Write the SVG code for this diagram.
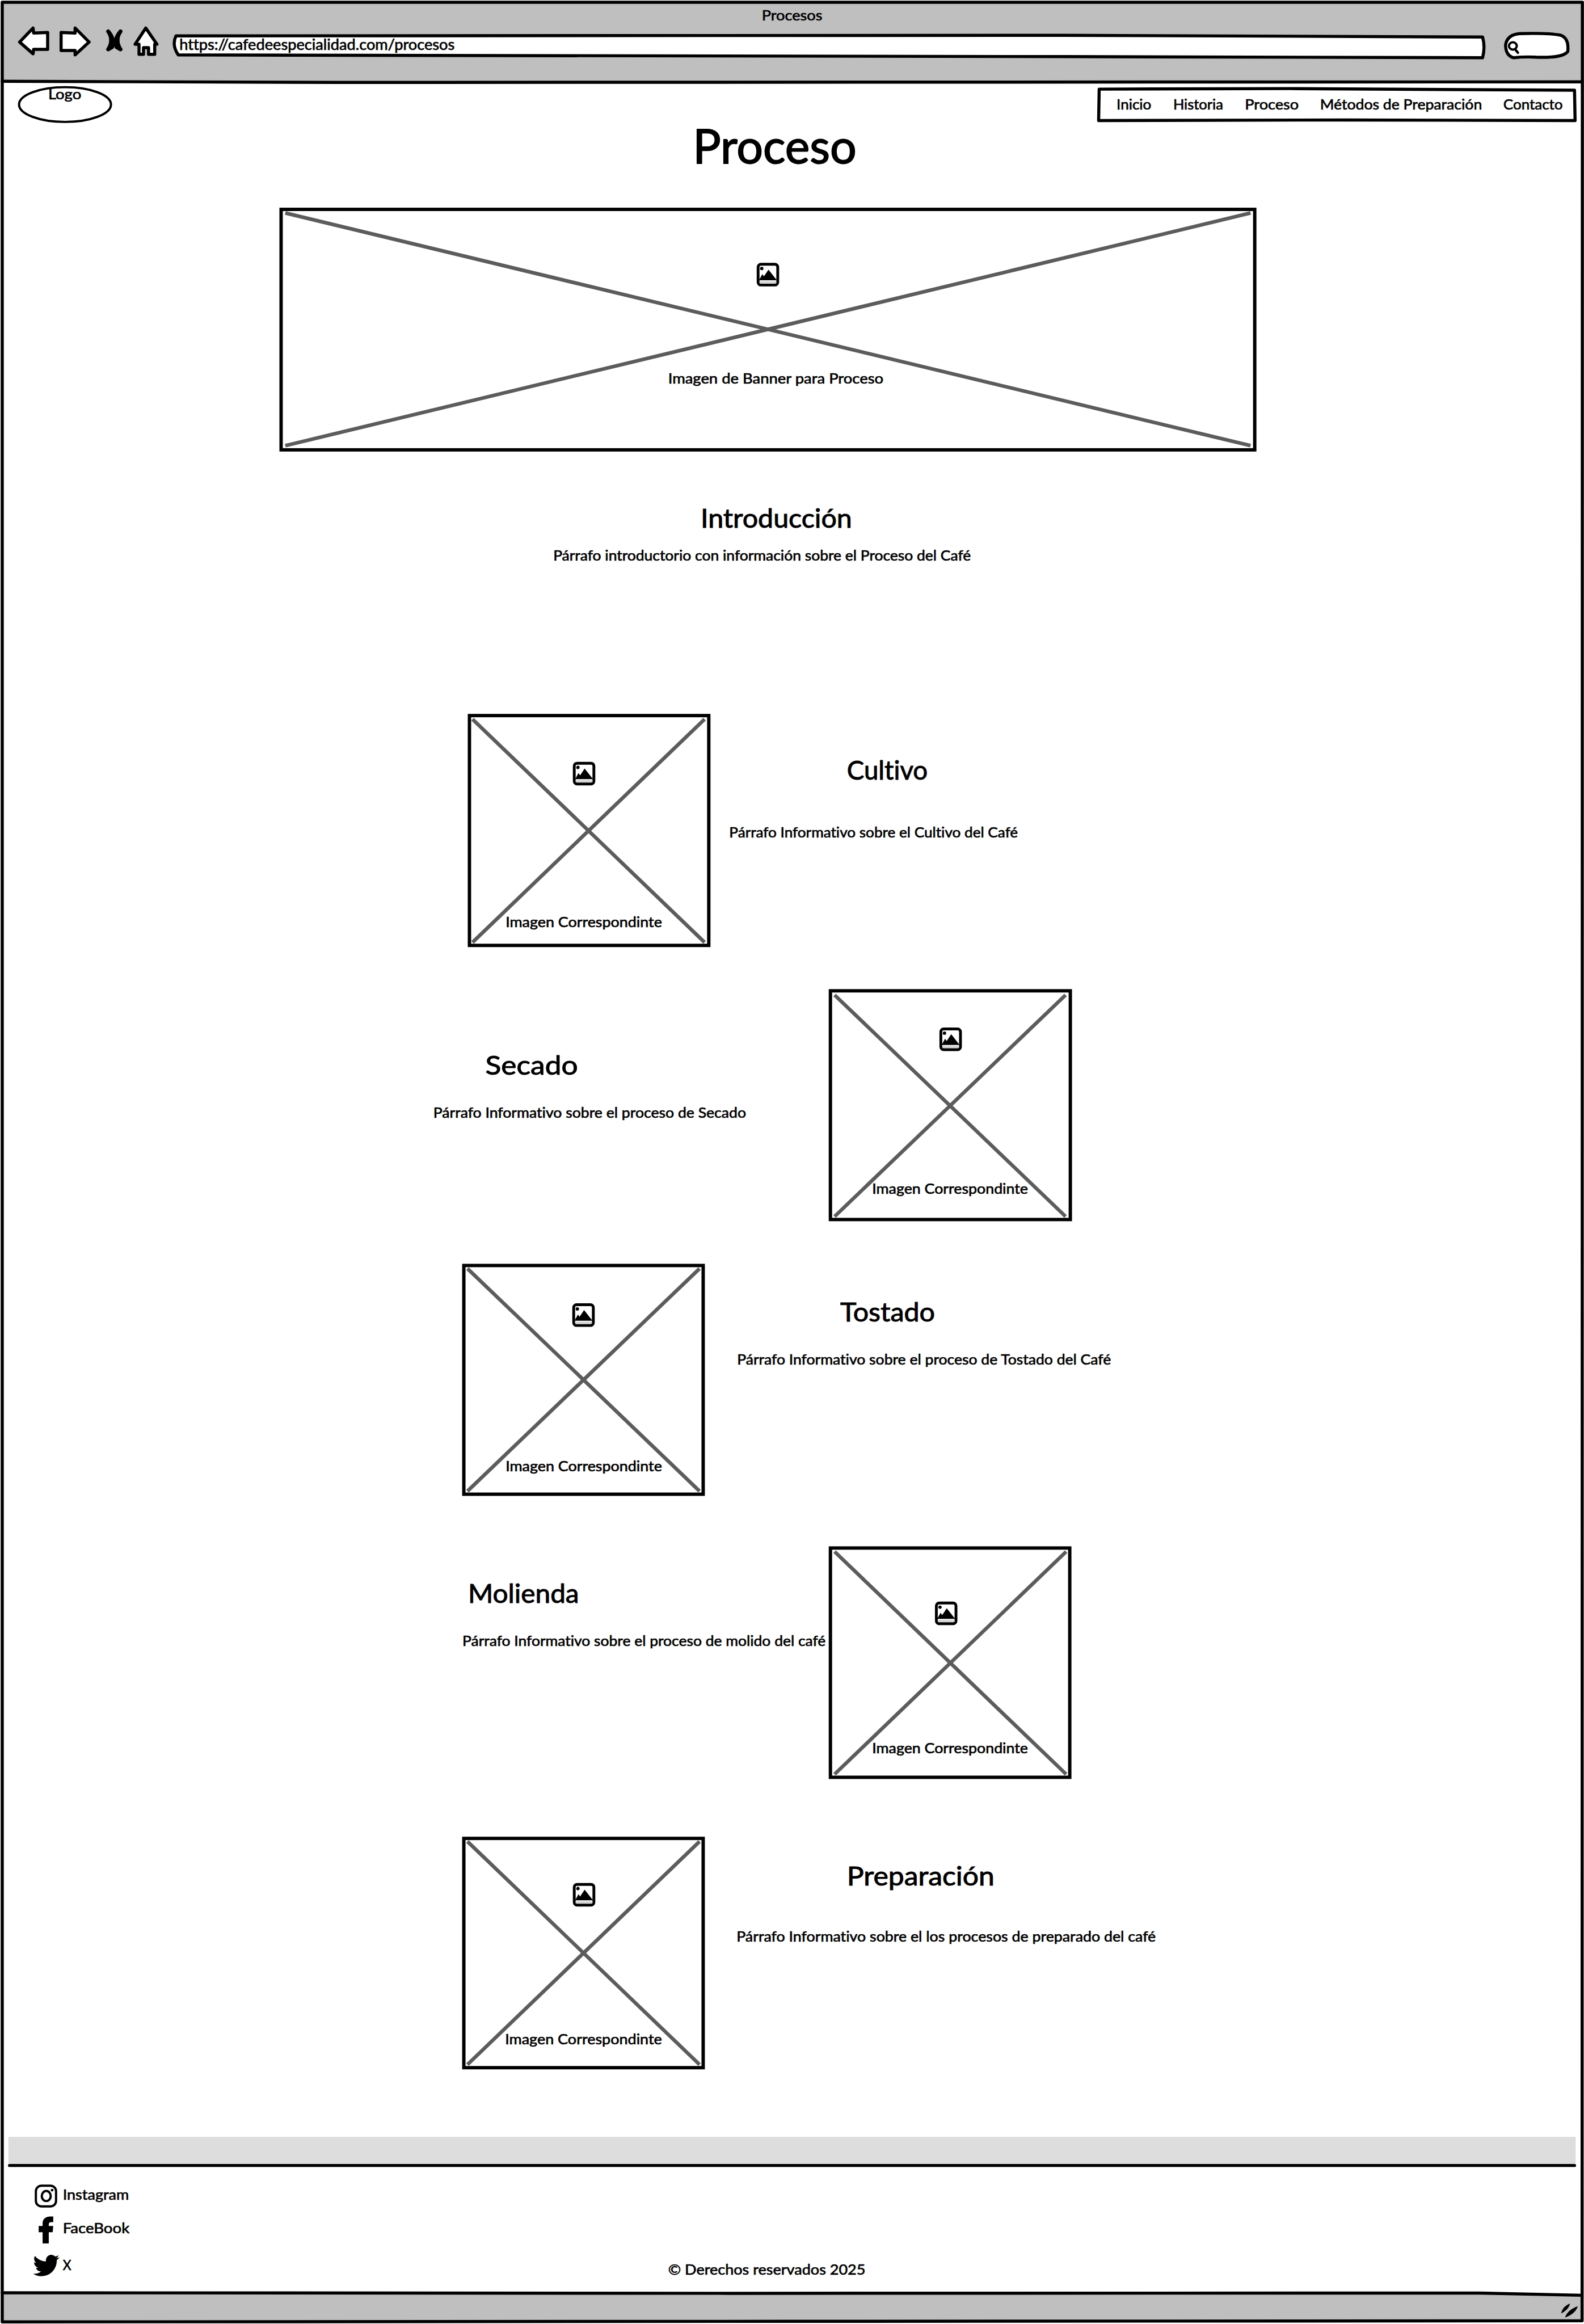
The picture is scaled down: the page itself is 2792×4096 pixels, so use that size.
<svg xmlns="http://www.w3.org/2000/svg" xmlns:xlink="http://www.w3.org/1999/xlink" width="2792" height="4096" viewBox="0 0 2792 4096">
<style>
text{font-family:"Lato","Open Sans","Liberation Sans",sans-serif;fill:#000;stroke:#000;stroke-width:.7;font-variant-ligatures:none}
.s{font-size:26px}
.u{font-size:27px}
.h{font-size:46px;stroke-width:1}
.t{font-size:84px;stroke-width:1.800}
.ln{fill:none;stroke:#000;stroke-width:5.500;stroke-linejoin:round;stroke-linecap:round}
.wf{fill:#fff;stroke:#000;stroke-width:5.500;stroke-linejoin:round;stroke-linecap:round}
.bx{fill:#fff;stroke:#000;stroke-width:6}
.x{stroke:#5c5c5c;stroke-width:6.500;fill:none}
.bar{fill:#bfbfbf}
</style>
<defs>
<g id="pic">
<rect x="2.500" y="2.500" width="35" height="37" rx="5" fill="#fff" stroke="#000" stroke-width="5"/>
<path d="M4 31 L10 20 L13 24 L21 12 L36 31Z" fill="#000"/>
<circle cx="9" cy="10" r="3" fill="#000"/>
<rect x="5" y="33" width="30" height="3.500" fill="#d0d0d0"/>
</g>
</defs>
<g transform="scale(0.988)">
<rect width="2826" height="4146" fill="#fff"/>
<g id="browser-window">
<path class="bar" d="M3 3H2823V147H3Z"/>
<path class="bar" d="M4 4091L2641 4090L2822 4094V4141H4Z"/>
<path class="ln" d="M4 4 L2823 4 L2822.500 4140 L1400 4141 L4 4142 Z"/>
<path class="ln" d="M4 145 L600 147 L2822 146"/>
<path class="ln" d="M4 4090 L1300 4091 L2641 4090.500 L2822 4094.500"/>
<text class="s" x="1359" y="36" textLength="108" lengthAdjust="spacingAndGlyphs">Procesos</text>
</g>
<g id="nav-buttons">
<path class="wf" d="M35 75 L59 50 L60 59 L85 58 L85 88 L60 88 L59 96 Z"/>
<path class="wf" d="M159 75 L134 50 L134 59 L109 58 L109 90 L134 90 L134 98 Z"/>
<path d="M193 56 C200 65 200 78 193 88 L200 84 Q205 70 193 56 Z M215 56 C208 65 208 78 215 88 L208 84 Q203 70 215 56 Z" fill="#000" stroke="#000" stroke-width="7" stroke-linejoin="round"/>
<path class="wf" d="M260 50 L280 79 L276 79 L276 97 L265 97 L265 85 L256 85 L256 97 L248 97 L248 79 L241 79 Z"/>
</g>
<g id="url-bar">
<path class="wf" d="M314 64 L1900 63 L2645 66 Q2650 84 2645 103 L1900 101 L318 98 Q306 80 314 64 Z"/>
<text class="u" x="320" y="89" textLength="491" lengthAdjust="spacingAndGlyphs">https://cafedeespecialidad.com/procesos</text>
</g>
<g id="search-box">
<path class="wf" d="M2712 60 C2745 59 2770 60 2785 63 C2797 68 2798 80 2797 92 C2790 101 2770 103 2740 102 C2725 101 2710 102 2700 103 C2690 100 2686 92 2686 80 C2688 68 2697 61 2712 60 Z"/>
<ellipse cx="2699" cy="82" rx="7" ry="6.500" fill="none" stroke="#000" stroke-width="4"/>
<path d="M2703 88 L2708 94" fill="none" stroke="#000" stroke-width="4.500" stroke-linecap="round"/>
</g>
<g id="logo">
<ellipse cx="116" cy="186.500" rx="82" ry="31" fill="#fff" stroke="#000" stroke-width="4"/>
<text class="s" x="86" y="177" textLength="59" lengthAdjust="spacingAndGlyphs">Logo</text>
</g>
<g id="nav-menu">
<path class="wf" d="M1961 159 L2300 158 L2809 161 L2810 215 L2400 214 L1960 215 Z"/>
<text class="s" x="1992" y="195" textLength="62" lengthAdjust="spacingAndGlyphs">Inicio</text>
<text class="s" x="2093" y="195" textLength="89" lengthAdjust="spacingAndGlyphs">Historia</text>
<text class="s" x="2221" y="195" textLength="96" lengthAdjust="spacingAndGlyphs">Proceso</text>
<text class="s" x="2355" y="195" textLength="289" lengthAdjust="spacingAndGlyphs">Métodos de Preparación</text>
<text class="s" x="2682" y="195" textLength="106" lengthAdjust="spacingAndGlyphs">Contacto</text>
</g>
<g id="page-title">
<text class="t" x="1236" y="291" textLength="292" lengthAdjust="spacingAndGlyphs">Proceso</text>
</g>
<g id="banner">
<rect class="bx" x="501.500" y="373.500" width="1737" height="429"/>
<path class="x" d="M509 380 L2231 795 M509 795 L2231 380"/>
<use href="#pic" xlink:href="#pic" x="1350" y="469"/>
<text class="s" x="1192" y="684" textLength="384" lengthAdjust="spacingAndGlyphs">Imagen de Banner para Proceso</text>
</g>
<g id="intro">
<text class="h" x="1250" y="941" textLength="270" lengthAdjust="spacingAndGlyphs">Introducción</text>
<text class="s" x="987" y="1000" textLength="745" lengthAdjust="spacingAndGlyphs">Párrafo introductorio con información sobre el Proceso del Café</text>
</g>
<g id="cultivo">
<rect class="bx" x="837.500" y="1276.500" width="427" height="410"/>
<path class="x" d="M843 1283 L1257 1681 M843 1681 L1257 1283"/>
<use href="#pic" xlink:href="#pic" x="1022" y="1359"/>
<text class="s" x="902" y="1654" textLength="279" lengthAdjust="spacingAndGlyphs">Imagen Correspondinte</text>
<text class="h" x="1511" y="1391" textLength="144" lengthAdjust="spacingAndGlyphs">Cultivo</text>
<text class="s" x="1301" y="1494" textLength="515" lengthAdjust="spacingAndGlyphs">Párrafo Informativo sobre el Cultivo del Café</text>
</g>
<g id="secado">
<rect class="bx" x="1481.500" y="1767.500" width="428" height="408"/>
<path class="x" d="M1489 1775 L1901 2170 M1489 2170 L1901 1775"/>
<use href="#pic" xlink:href="#pic" x="1676" y="1833"/>
<text class="s" x="1556" y="2130" textLength="278" lengthAdjust="spacingAndGlyphs">Imagen Correspondinte</text>
<text class="h" x="866" y="1917" textLength="165" lengthAdjust="spacingAndGlyphs">Secado</text>
<text class="s" x="773" y="1994" textLength="558" lengthAdjust="spacingAndGlyphs">Párrafo Informativo sobre el proceso de Secado</text>
</g>
<g id="tostado">
<rect class="bx" x="827.500" y="2257.500" width="427" height="408"/>
<path class="x" d="M834 2263 L1248 2660 M834 2660 L1248 2263"/>
<use href="#pic" xlink:href="#pic" x="1021" y="2325"/>
<text class="s" x="902" y="2624" textLength="279" lengthAdjust="spacingAndGlyphs">Imagen Correspondinte</text>
<text class="h" x="1499" y="2357" textLength="169" lengthAdjust="spacingAndGlyphs">Tostado</text>
<text class="s" x="1315" y="2434" textLength="667" lengthAdjust="spacingAndGlyphs">Párrafo Informativo sobre el proceso de Tostado del Café</text>
</g>
<g id="molienda">
<rect class="bx" x="1481.500" y="2761.500" width="427" height="409"/>
<path class="x" d="M1489 2768 L1902 3165 M1489 3165 L1902 2768"/>
<use href="#pic" xlink:href="#pic" x="1668" y="2857"/>
<text class="s" x="1556" y="3128" textLength="278" lengthAdjust="spacingAndGlyphs">Imagen Correspondinte</text>
<text class="h" x="835" y="2859" textLength="198" lengthAdjust="spacingAndGlyphs">Molienda</text>
<text class="s" x="825" y="2936" textLength="648" lengthAdjust="spacingAndGlyphs">Párrafo Informativo sobre el proceso de molido del café</text>
</g>
<g id="preparacion">
<rect class="bx" x="827.500" y="3279.500" width="427" height="409"/>
<path class="x" d="M834 3285 L1248 3683 M834 3683 L1248 3285"/>
<use href="#pic" xlink:href="#pic" x="1022" y="3359"/>
<text class="s" x="901" y="3647" textLength="280" lengthAdjust="spacingAndGlyphs">Imagen Correspondinte</text>
<text class="h" x="1511" y="3363" textLength="263" lengthAdjust="spacingAndGlyphs">Preparación</text>
<text class="s" x="1314" y="3464" textLength="748" lengthAdjust="spacingAndGlyphs">Párrafo Informativo sobre el los procesos de preparado del café</text>
</g>
<g id="footer">
<rect x="15" y="3812" width="2796" height="49" fill="#ddd"/>
<path class="ln" d="M17 3863 L2809 3863"/>
<text class="s" x="1192" y="4058" textLength="352" lengthAdjust="spacingAndGlyphs">© Derechos reservados 2025</text>
</g>
<g id="instagram">
<rect x="64" y="3899" width="36" height="37" rx="10" fill="none" stroke="#000" stroke-width="4"/>
<ellipse cx="82.500" cy="3917.500" rx="8" ry="9" fill="none" stroke="#000" stroke-width="4"/>
<circle cx="93" cy="3907" r="2.500" fill="#000"/>
<text class="s" x="112" y="3924" textLength="118" lengthAdjust="spacingAndGlyphs">Instagram</text>
</g>
<g id="facebook">
<path d="M76 4002 V3982 H69 V3971 H76 V3966 C76 3958 82 3954 90 3954 H95 V3964 H91 C88 3964 87 3966 87 3968 V3971 H95 L94 3982 H87 V4002 Z" fill="#000"/>
<text class="s" x="112" y="3984" textLength="119" lengthAdjust="spacingAndGlyphs">FaceBook</text>
</g>
<g id="x-twitter">
<path transform="translate(59 4018) scale(1.96 1.95)" fill="#000" d="M23.953 4.57a10 10 0 01-2.825.775 4.958 4.958 0 002.163-2.723c-.951.555-2.005.959-3.127 1.184a4.92 4.92 0 00-8.384 4.482C7.69 8.095 4.067 6.13 1.64 3.162a4.822 4.822 0 00-.666 2.475c0 1.71.87 3.213 2.188 4.096a4.904 4.904 0 01-2.228-.616v.06a4.923 4.923 0 003.946 4.827 4.996 4.996 0 01-2.212.085 4.936 4.936 0 004.604 3.417 9.867 9.867 0 01-6.102 2.105c-.39 0-.779-.023-1.17-.067a13.995 13.995 0 007.557 2.209c9.053 0 13.998-7.496 13.998-13.985 0-.21 0-.42-.015-.63A9.935 9.935 0 0024 4.59z"/>
<text class="s" x="112" y="4050" textLength="15" lengthAdjust="spacingAndGlyphs">X</text>
</g>
<g id="resize-handle">
<path d="M2785 4127 Q2788 4114 2801 4109 Q2799 4120 2785 4127Z M2792 4134 Q2797 4120 2815 4114 Q2810 4128 2792 4134Z" fill="#000"/>
</g>
</g>
</svg>
